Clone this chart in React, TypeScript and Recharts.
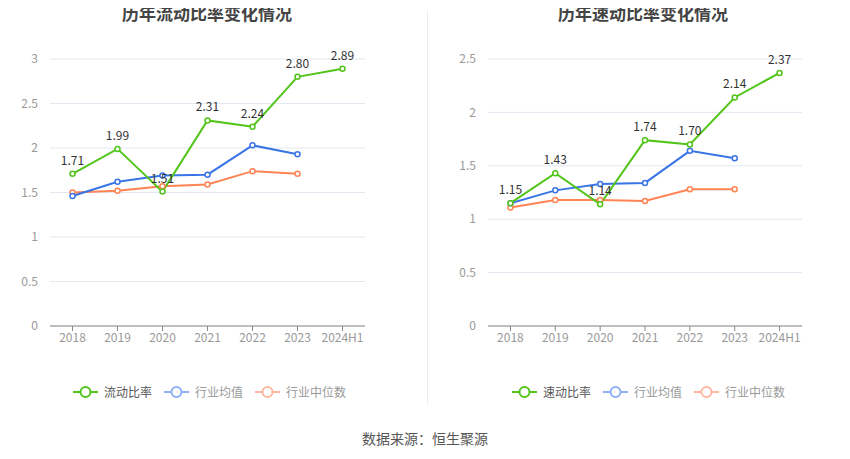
import { CartesianGrid, LabelList, Line, LineChart, XAxis, YAxis } from "recharts";
import { ReactElement } from "react";

const years = ["2018", "2019", "2020", "2021", "2022", "2023", "2024H1"];

// 流动比率
const currentRatio = [1.71, 1.99, 1.51, 2.31, 2.24, 2.8, 2.89];
const currentIndustryAvg = [1.46, 1.62, 1.69, 1.7, 2.03, 1.93, null];
const currentIndustryMedian = [1.5, 1.52, 1.57, 1.59, 1.74, 1.71, null];
const currentTicks = [0, 0.5, 1, 1.5, 2, 2.5, 3];

// 速动比率
const quickRatio = [1.15, 1.43, 1.14, 1.74, 1.7, 2.14, 2.37];
const quickIndustryAvg = [1.15, 1.27, 1.33, 1.34, 1.64, 1.57, null];
const quickIndustryMedian = [1.11, 1.18, 1.18, 1.17, 1.28, 1.28, null];
const quickTicks = [0, 0.5, 1, 1.5, 2, 2.5];

const GREEN = "#52c41a";
const BLUE = "#3a75e6";
const ORANGE = "#ff8454";
const FONT = "'Noto Sans CJK SC', 'Noto Sans', sans-serif";

type Row = { year: string; main: number; avg: number | null; median: number | null };

function buildRows(main: number[], avg: (number | null)[], median: (number | null)[]): Row[] {
  return years.map((year, i) => ({ year, main: main[i], avg: avg[i], median: median[i] }));
}

function LegendItem({ color, label, textColor }: { color: string; label: string; textColor: string }) {
  return (
    <div style={{ display: "flex", alignItems: "center", marginRight: 12 }}>
      <svg width={25} height={14}>
        <line x1={0} y1={7} x2={25} y2={7} stroke={color} strokeWidth={2} />
        <circle cx={12.5} cy={7} r={5} fill="#fff" stroke={color} strokeWidth={2} />
      </svg>
      <span style={{ marginLeft: 6, fontSize: 12, color: textColor }}>{label}</span>
    </div>
  );
}

interface PanelProps {
  title: string;
  mainName: string;
  rows: Row[];
  ticks: number[];
  left: number;
  yWidth: number;
  marginRight: number;
  legendLeft: number;
  titleCenter: number;
}

function Panel({
  title,
  mainName,
  rows,
  ticks,
  left,
  yWidth,
  marginRight,
  legendLeft,
  titleCenter,
}: PanelProps): ReactElement {
  const dot = { r: 2.5, strokeWidth: 1.5, fill: "#fff" };
  const plotWidth = 425 - yWidth - marginRight;
  const pad = plotWidth / years.length / 2;
  return (
    <div style={{ position: "absolute", left, top: 0, width: 425, height: 459 }}>
      <div
        style={{
          position: "absolute",
          top: 0,
          left: 0,
          width: titleCenter * 2,
          textAlign: "center",
          fontSize: 17,
          fontWeight: "bold",
          color: "#444",
        }}
      >
        {title}
      </div>
      <LineChart
        width={425}
        height={360}
        data={rows}
        margin={{ top: 59, right: marginRight, bottom: 4, left: 0 }}
        style={{ position: "absolute", top: 0, left: 0 }}
      >
        <CartesianGrid vertical={false} stroke="#e3e7f0" />
        <XAxis
          dataKey="year"
          height={30}
          padding={{ left: pad, right: pad }}
          tick={{ fill: "#999", fontSize: 12 }}
          tickLine={{ stroke: "#888" }}
          axisLine={{ stroke: "#888" }}
          tickSize={5}
          interval={0}
        />
        <YAxis
          width={yWidth}
          domain={[ticks[0], ticks[ticks.length - 1]]}
          ticks={ticks}
          axisLine={false}
          tickLine={false}
          tick={{ fill: "#999", fontSize: 12 }}
          tickMargin={6}
        />
        <Line
          dataKey="median"
          stroke={ORANGE}
          strokeWidth={2}
          dot={{ ...dot, stroke: ORANGE }}
          isAnimationActive={false}
        />
        <Line
          dataKey="avg"
          stroke={BLUE}
          strokeWidth={2}
          dot={{ ...dot, stroke: BLUE }}
          isAnimationActive={false}
        />
        <Line
          dataKey="main"
          name={mainName}
          stroke={GREEN}
          strokeWidth={2}
          dot={{ ...dot, stroke: GREEN }}
          isAnimationActive={false}
        >
          <LabelList
            dataKey="main"
            position="top"
            offset={9}
            fill="#333"
            fontSize={12}
            formatter={(v: number) => v.toFixed(2)}
          />
        </Line>
      </LineChart>
      <div style={{ position: "absolute", top: 383, left: legendLeft, display: "flex" }}>
        <LegendItem color={GREEN} label={mainName} textColor="#555" />
        <LegendItem color="#8fb0f5" label="行业均值" textColor="#999" />
        <LegendItem color="#ffb89f" label="行业中位数" textColor="#999" />
      </div>
    </div>
  );
}

export default function App(): ReactElement {
  return (
    <div
      style={{
        position: "relative",
        width: 850,
        height: 459,
        margin: -8,
        background: "#fff",
        fontFamily: FONT,
        overflow: "hidden",
      }}
    >
      <Panel
        title="历年流动比率变化情况"
        mainName="流动比率"
        rows={buildRows(currentRatio, currentIndustryAvg, currentIndustryMedian)}
        ticks={currentTicks}
        left={0}
        yWidth={50}
        marginRight={60}
        legendLeft={73}
        titleCenter={207}
      />
      <div style={{ position: "absolute", left: 427, top: 10, width: 1, height: 395, background: "#eee" }} />
      <Panel
        title="历年速动比率变化情况"
        mainName="速动比率"
        rows={buildRows(quickRatio, quickIndustryAvg, quickIndustryMedian)}
        ticks={quickTicks}
        left={425}
        yWidth={63}
        marginRight={48}
        legendLeft={87}
        titleCenter={218}
      />
      <div
        style={{
          position: "absolute",
          top: 428,
          width: 850,
          textAlign: "center",
          fontSize: 14,
          color: "#555",
        }}
      >
        数据来源：恒生聚源
      </div>
    </div>
  );
}
